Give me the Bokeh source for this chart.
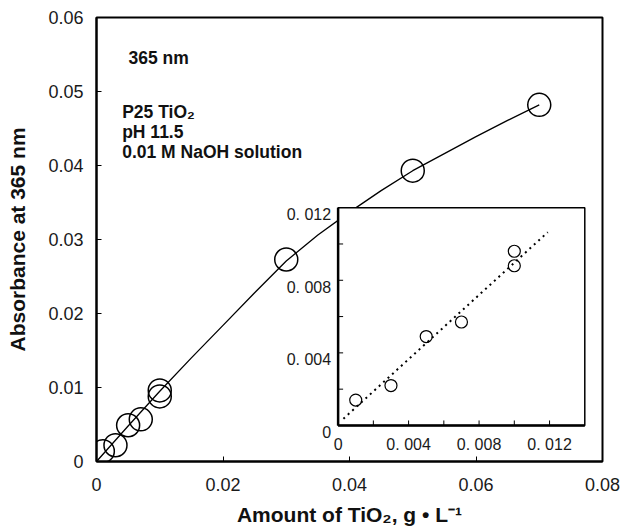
from bokeh.plotting import figure
from bokeh.models import Range1d, FixedTicker, Label, ColumnDataSource
from bokeh.core.properties import value
from bokeh.embed import file_html
from bokeh.resources import INLINE

# ---------------- data ----------------
conc_low = [0.001, 0.003, 0.005, 0.007, 0.010, 0.010]
abs_low = [0.0014, 0.0022, 0.0049, 0.0057, 0.0088, 0.0096]
conc_high = [0.030, 0.050, 0.070]
abs_high = [0.0273, 0.0393, 0.0482]

curve_x = [0.0, 0.005, 0.010, 0.015, 0.020, 0.025, 0.030, 0.035, 0.040,
           0.045, 0.050, 0.055, 0.060, 0.065, 0.070]
curve_y = [0.0, 0.0048, 0.0095, 0.0140, 0.0184, 0.0228, 0.0271, 0.0306, 0.0337,
           0.0366, 0.0393, 0.0416, 0.0439, 0.0461, 0.0482]

fit_x = [0.0003, 0.0119]
fit_y = [0.00037, 0.01065]

x_ticks = [0, 0.02, 0.04, 0.06, 0.08]
x_tick_labels = ["0", "0.02", "0.04", "0.06", "0.08"]
y_ticks = [0, 0.01, 0.02, 0.03, 0.04, 0.05, 0.06]
y_tick_labels = ["0", "0.01", "0.02", "0.03", "0.04", "0.05", "0.06"]

inset_x_label_vals = [0, 0.004, 0.008, 0.012]
inset_x_label_text = ["0", "0. 004", "0. 008", "0. 012"]
inset_y_label_vals = [0, 0.004, 0.008, 0.012]
inset_y_label_text = ["0", "0. 004", "0. 008", "0. 012"]
inset_x_ticks = [0.002, 0.004, 0.006, 0.008, 0.010, 0.012]
inset_y_ticks = [0.002, 0.004, 0.006, 0.008, 0.010]

# ---------------- layout constants ----------------
FONT = "Liberation Sans"
X_MAX, Y_MAX = 0.08, 0.06
W, H = 622, 532
BL, BT = 96, 17
FW, FH = 506, 444
BR, BB = W - BL - FW, H - BT - FH
IX_MAX, IY_MAX = 0.014, 0.012
# inset box location in main data coordinates
IN_L, IN_R, IN_B, IN_T = 0.0382, 0.0772, 0.00487, 0.0343

kx = IX_MAX / (IN_R - IN_L)
ky = IY_MAX / (IN_T - IN_B)
ix_range = Range1d(-IN_L * kx, (X_MAX - IN_L) * kx)
iy_range = Range1d(-IN_B * ky, (Y_MAX - IN_B) * ky)
ipx_x = (FW / X_MAX) / kx   # inset pixels per unit
ipx_y = (FH / Y_MAX) / ky

p = figure(
    width=W, height=H,
    min_border_left=BL, min_border_right=BR, min_border_top=BT, min_border_bottom=BB,
    x_range=Range1d(0, X_MAX), y_range=Range1d(0, Y_MAX),
    output_backend="svg", toolbar_location=None,
    background_fill_color="white", border_fill_color="white",
)
p.extra_x_ranges = {"ix": ix_range}
p.extra_y_ranges = {"iy": iy_range}

p.xgrid.visible = False
p.ygrid.visible = False
p.outline_line_color = "black"
p.outline_line_width = 2

for ax in (p.xaxis[0], p.yaxis[0]):
    ax.axis_line_width = 2
    ax.axis_line_color = "black"
    ax.major_tick_in = 5
    ax.major_tick_out = 0
    ax.major_tick_line_width = 1
    ax.minor_tick_line_color = None
    ax.major_label_text_font = FONT
    ax.major_label_text_font_size = "18px"
    ax.major_label_text_color = "#1a1a1a"
    ax.axis_label_text_font = FONT
    ax.axis_label_text_font_size = "21px"
    ax.axis_label_text_font_style = "bold"
    ax.axis_label_text_color = "#111111"

p.xaxis.ticker = FixedTicker(ticks=x_ticks)
p.xaxis.major_label_overrides = dict(zip(x_ticks, x_tick_labels))
p.yaxis.ticker = FixedTicker(ticks=y_ticks)
p.yaxis.major_label_overrides = dict(zip(y_ticks, y_tick_labels))
p.xaxis.major_label_standoff = 16
p.yaxis.major_label_standoff = 13
p.xaxis.axis_label = "Amount of TiO\u2082, g \u2022 L\u207b\u00b9"
p.yaxis.axis_label = "Absorbance at 365 nm"
p.xaxis.axis_label_standoff = 9
p.yaxis.axis_label_standoff = 16

# ---------------- main plot ----------------
p.line(curve_x, curve_y, line_color="black", line_width=1.3)
p.scatter(conc_low + conc_high, abs_low + abs_high, marker="circle", size=23,
          fill_alpha=0, line_color="black", line_width=1.5)

# ---------------- inset ----------------
IR = dict(x_range_name="ix", y_range_name="iy")
p.quad(left=[0], right=[IX_MAX], bottom=[0], top=[IY_MAX], fill_color="white",
       line_color="black", line_width=1.5, **IR)
p.segment(x0=[0, 0], y0=[0, 0], x1=[IX_MAX, 0], y1=[0, IY_MAX],
          line_color="black", line_width=2.5, **IR)
tl_y = 5 / ipx_y
tl_x = 5 / ipx_x
p.segment(x0=inset_x_ticks, y0=[0] * len(inset_x_ticks), x1=inset_x_ticks,
          y1=[tl_y] * len(inset_x_ticks), line_color="black", line_width=1, **IR)
p.segment(x0=[0] * len(inset_y_ticks), y0=inset_y_ticks, x1=[tl_x] * len(inset_y_ticks),
          y1=inset_y_ticks, line_color="black", line_width=1, **IR)

p.line(fit_x, fit_y, line_color="black", line_width=2, line_dash="2 4", **IR)
p.scatter(conc_low, abs_low, marker="circle", size=12, fill_alpha=0,
          line_color="black", line_width=1.2, **IR)

src_ix = ColumnDataSource(dict(x=inset_x_label_vals, y=[0] * len(inset_x_label_vals),
                               t=inset_x_label_text))
p.text(x="x", y="y", text="t", source=src_ix, text_font=value(FONT),
       text_font_size=value("16px"), text_color="#1a1a1a", text_align="center",
       text_baseline="middle", y_offset=19, **IR)
src_iy = ColumnDataSource(dict(x=[0] * len(inset_y_label_vals), y=inset_y_label_vals,
                               t=inset_y_label_text))
p.text(x="x", y="y", text="t", source=src_iy, text_font=value(FONT),
       text_font_size=value("16px"), text_color="#1a1a1a", text_align="right",
       text_baseline="middle", x_offset=-7, y_offset=7, **IR)

# ---------------- annotations ----------------
ann = [("365 nm", 0.00506, 0.05455),
       ("P25 TiO\u2082", 0.00406, 0.0472),
       ("pH 11.5", 0.00406, 0.0445),
       ("0.01 M NaOH solution", 0.00406, 0.0418)]
for txt, ax_, ay_ in ann:
    p.add_layout(Label(x=ax_, y=ay_, text=txt, text_font=FONT, text_font_size="17.5px",
                       text_font_style="bold", text_color="#111111",
                       text_baseline="alphabetic", text_align="left"))

open("out.html", "w").write(file_html(p, INLINE))
